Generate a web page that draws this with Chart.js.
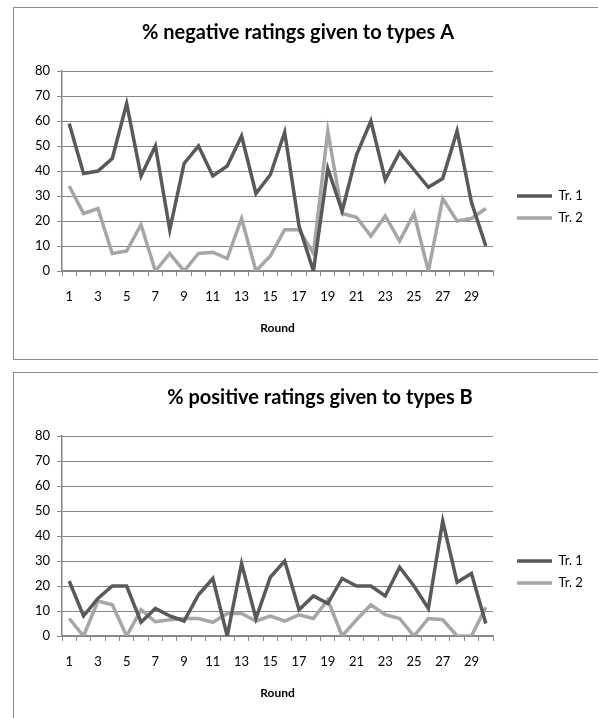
<!DOCTYPE html>
<html>
<head>
<meta charset="utf-8">
<script src="https://cdn.jsdelivr.net/npm/chart.js@4.4.1/dist/chart.umd.min.js"></script>
<style>
  html, body { margin: 0; padding: 0; background: #fff; overflow: hidden; width: 598px; height: 718px; }
  .box { position: absolute; left: 13px; width: 600px; height: 351px; border: 1px solid #8c8c8c; background: #fff; }
  .box canvas { position: absolute; left: 0; top: 0; }
</style>
</head>
<body>
<div class="box" style="top:7px"><canvas id="chartNeg" width="600" height="351"></canvas></div>
<div class="box" style="top:372px"><canvas id="chartPos" width="600" height="351"></canvas></div>
<script>
// rounds on the x axis
var rounds = ['1','2','3','4','5','6','7','8','9','10','11','12','13','14','15',
              '16','17','18','19','20','21','22','23','24','25','26','27','28','29','30'];
var seriesNames = ['Tr. 1', 'Tr. 2'];
var yTicks = [0, 10, 20, 30, 40, 50, 60, 70, 80];

// % negative ratings given to types A
var negTr1 = [59, 39, 40, 45, 67, 38, 50, 16.5, 43, 50, 38, 42, 54, 31, 38.5,
              55.5, 18, 0, 41, 24, 46.5, 60, 36.5, 47.5, 40.5, 33.5, 37, 56, 27.5, 10];
var negTr2 = [34, 23, 25, 7, 8, 18.5, 0, 7, 0, 7, 7.5, 5, 21, 0, 6,
              16.5, 16.5, 7, 56, 23, 21.5, 14, 22, 12, 23, 0, 29, 20, 21, 25];

// % positive ratings given to types B
var posTr1 = [22, 8, 15, 20, 20, 5.5, 11, 8, 6, 16.5, 23, 0, 29, 7, 23.5,
              30, 10.5, 16, 13, 23, 20, 20, 16, 27.5, 20, 11, 46, 21.5, 25, 5];
var posTr2 = [7, 0, 14, 12.5, 0, 10.5, 5.7, 6.5, 7, 7, 5.5, 9, 9, 6, 8,
              6, 8.5, 7, 14.5, 0, 6.5, 12.5, 8.5, 7, 0, 7, 6.5, 0, 0, 11.5];

var dark = '#595959';
var light = '#a6a6a6';
var axisGrey = '#868686';
var fontName = 'Lato, "Open Sans", sans-serif';

// puts legend and title where Excel had them
const boxMover = {
  id: 'boxMover',
  afterLayout(chart, args, opts) {
    const lg = chart.legend;
    if (lg) {
      const w = lg.width, h = lg.height;
      lg.left = opts.legendX; lg.right = opts.legendX + w;
      lg.top = opts.legendY - h / 2; lg.bottom = lg.top + h;
    }
    const tb = chart.titleBlock;
    if (tb) {
      tb.left = opts.titleX - 250; tb.right = opts.titleX + 250;
    }
  }
};

function makeChart(id, title, titleX, d1, d2) {
  const ctx = document.getElementById(id).getContext('2d');
  return new Chart(ctx, {
    type: 'line',
    data: {
      labels: rounds,
      datasets: [{
        label: seriesNames[0],
        data: d1,
        borderColor: dark,
        backgroundColor: dark,
        borderWidth: 3.5,
        pointRadius: 0,
        tension: 0,
        fill: false
      }, {
        label: seriesNames[1],
        data: d2,
        borderColor: light,
        backgroundColor: light,
        borderWidth: 3.5,
        pointRadius: 0,
        tension: 0,
        fill: false
      }]
    },
    plugins: [boxMover],
    options: {
      responsive: false,
      animation: false,
      layout: { padding: { left: 0, top: 0, right: 121, bottom: 0 } },
      plugins: {
        title: {
          display: true,
          text: title,
          color: '#000',
          font: { family: fontName, size: 20, weight: 'bold' },
          padding: { top: 13, bottom: 26 }
        },
        legend: {
          position: 'chartArea',
          labels: {
            usePointStyle: true,
            pointStyle: 'line',
            pointStyleWidth: 35,
            padding: 9,
            color: '#000',
            font: { family: fontName, size: 13 }
          }
        },
        boxMover: { legendX: 494, legendY: 199, titleX: titleX },
        tooltip: { enabled: false }
      },
      scales: {
        x: {
          offset: true,
          afterFit: function (s) { s.height = 88; },
          border: { color: axisGrey, width: 1.5 },
          grid: { offset: true, drawOnChartArea: false, tickLength: 5, color: axisGrey },
          ticks: {
            autoSkip: false,
            maxRotation: 0,
            padding: 13,
            color: '#000',
            font: { family: fontName, size: 13 },
            callback: function (v, i) { return i % 2 === 0 ? rounds[i] : ''; }
          },
          title: {
            display: true,
            text: 'Round',
            color: '#000',
            font: { family: fontName, size: 12, weight: 'bold' },
            padding: { top: 0, bottom: 24 }
          }
        },
        y: {
          min: yTicks[0],
          max: yTicks[yTicks.length - 1],
          afterFit: function (s) { s.width = 48; },
          border: { color: axisGrey, width: 1.5 },
          grid: { color: axisGrey, tickLength: 5 },
          ticks: {
            stepSize: 10,
            padding: 7,
            color: '#000',
            font: { family: fontName, size: 13 }
          }
        }
      }
    }
  });
}

makeChart('chartNeg', '% negative ratings given to types A', 284, negTr1, negTr2);
makeChart('chartPos', '% positive ratings given to types B', 306, posTr1, posTr2);
</script>
</body>
</html>
